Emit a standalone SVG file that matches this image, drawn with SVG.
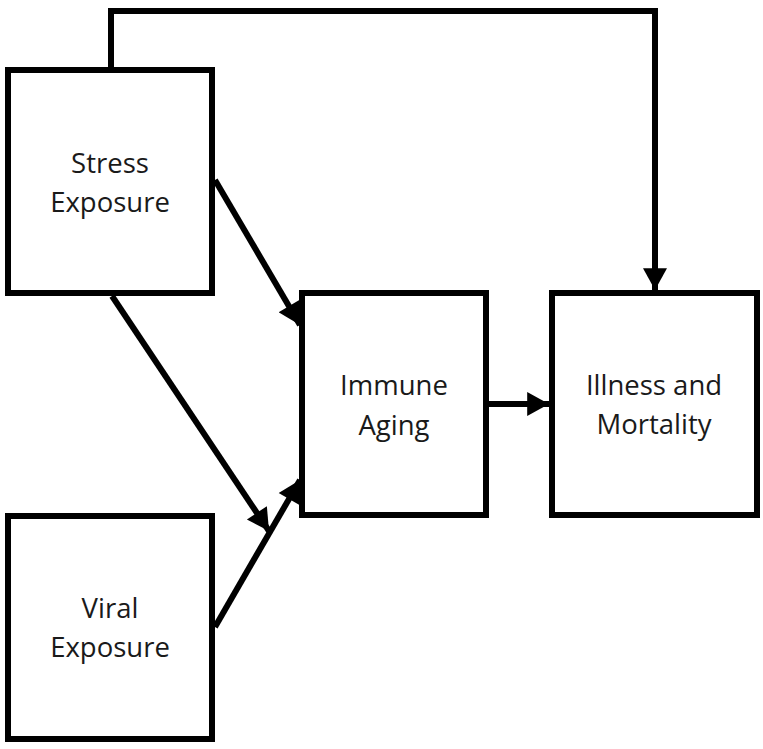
<svg xmlns="http://www.w3.org/2000/svg" width="763" height="749" viewBox="0 0 763 749">
<style>
.box{fill:#fff;stroke:#000;stroke-width:6}
.lbl{font-family:"Open Sans","Noto Sans",sans-serif;font-size:27.5px;fill:#1a1a1a;text-anchor:middle}
.con{fill:none;stroke:#000;stroke-width:6;stroke-linejoin:miter}
</style>
<defs>
<marker id="ah" markerUnits="userSpaceOnUse" markerWidth="24" markerHeight="24" viewBox="0 0 20 22" refX="20" refY="11" orient="auto">
<polygon points="0,0 20,11 0,22" fill="#000"/>
</marker>
</defs>
<rect width="763" height="749" fill="#fff"/>
<g id="connectors">
<polyline class="con" points="111,70 111,11 655,11 655,290" marker-end="url(#ah)"/>
<line class="con" x1="215" y1="180" x2="300" y2="325" marker-end="url(#ah)"/>
<line class="con" x1="112" y1="296" x2="269" y2="531" marker-end="url(#ah)"/>
<line class="con" x1="215" y1="627" x2="300" y2="480" marker-end="url(#ah)"/>
<line class="con" x1="489" y1="404" x2="549" y2="404" marker-end="url(#ah)"/>
</g>
<g id="stress">
<rect class="box" x="8" y="70" width="204" height="223"/>
<text class="lbl" x="110" y="173">Stress</text>
<text class="lbl" x="110" y="212">Exposure</text>
</g>
<g id="viral">
<rect class="box" x="8" y="516" width="204" height="223"/>
<text class="lbl" x="110" y="618">Viral</text>
<text class="lbl" x="110" y="657">Exposure</text>
</g>
<g id="immune">
<rect class="box" x="302" y="293" width="184" height="222"/>
<text class="lbl" x="394" y="395">Immune</text>
<text class="lbl" x="394" y="435">Aging</text>
</g>
<g id="illness">
<rect class="box" x="552" y="293" width="205" height="222"/>
<text class="lbl" x="654" y="395">Illness and</text>
<text class="lbl" x="654" y="434">Mortality</text>
</g>
</svg>
